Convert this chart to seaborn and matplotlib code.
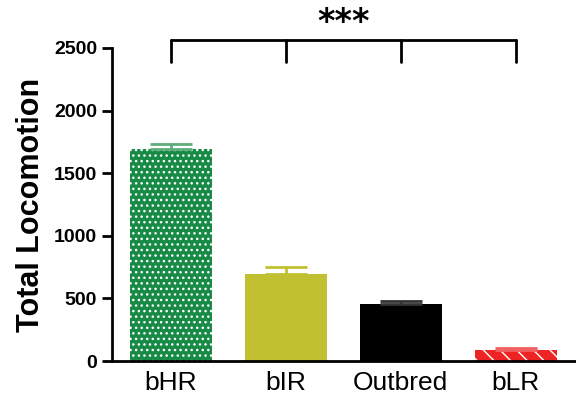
import matplotlib
matplotlib.use("Agg")
import matplotlib.pyplot as plt
import seaborn as sns
import pandas as pd

# datos
groups = ["bHR", "bIR", "Outbred", "bLR"]
means = [1690, 695, 455, 85]
sems = [40, 56, 25, 18]
colors = ["#178a46", "#c0c031", "#000000", "#ee2424"]
err_colors = ["#5fae7c", "#c0c031", "#333333", "#f06060"]
hatches = ["...", "", "", "\\\\"]
sig_label = "***"

sns.set_theme(style="ticks")
plt.rcParams["font.family"] = ["Liberation Sans", "DejaVu Sans"]
plt.rcParams["hatch.color"] = "#d8eedd"
plt.rcParams["hatch.linewidth"] = 1.0
plt.rcParams["text.color"] = "black"
plt.rcParams["axes.labelcolor"] = "black"
plt.rcParams["xtick.color"] = "black"
plt.rcParams["ytick.color"] = "black"

df = pd.DataFrame({"group": groups, "mean": means})

fig = plt.figure(figsize=(5.76, 4.0), dpi=100)
ax = fig.add_axes([0.194, 0.0975, 0.804, 0.7825])
sns.barplot(data=df, x="group", y="mean", hue="group", palette=colors,
            saturation=1, width=0.71, errorbar=None, legend=False, ax=ax,
            linewidth=0)

for patch, h in zip(ax.patches, hatches):
    patch.set_hatch(h)
ax.patches[3].set_edgecolor("white")

for i in range(len(groups)):
    ax.errorbar(i, means[i], yerr=[[0], [sems[i]]], fmt="none",
                ecolor=err_colors[i], elinewidth=2, capsize=15, capthick=2)

ax.set_ylim(0, 2500)
ax.set_xlim(-0.513, 3.513)
ax.set_yticks([0, 500, 1000, 1500, 2000, 2500])
ax.set_xlabel("")
ax.set_ylabel("Total Locomotion", fontsize=22, fontweight="bold", labelpad=6)
ax.tick_params(axis="y", labelsize=14, width=2, length=7)
ax.tick_params(axis="x", labelsize=19, length=0, pad=7)
for lab in ax.get_yticklabels():
    lab.set_fontweight("bold")
sns.despine(ax=ax)
for s in ["left", "bottom"]:
    ax.spines[s].set_linewidth(2)
    ax.spines[s].set_color("black")

# corchete de significancia
top, drop = 2565, 2390
ax.plot([0, 3], [top, top], color="black", lw=2, clip_on=False)
for i in range(len(groups)):
    ax.plot([i, i], [drop, top], color="black", lw=2, clip_on=False)
ax.text(1.5, top + 5, sig_label, ha="center", va="bottom", fontsize=24,
        fontweight="bold", family="DejaVu Sans", clip_on=False)

fig.savefig("out.png", dpi=100)
